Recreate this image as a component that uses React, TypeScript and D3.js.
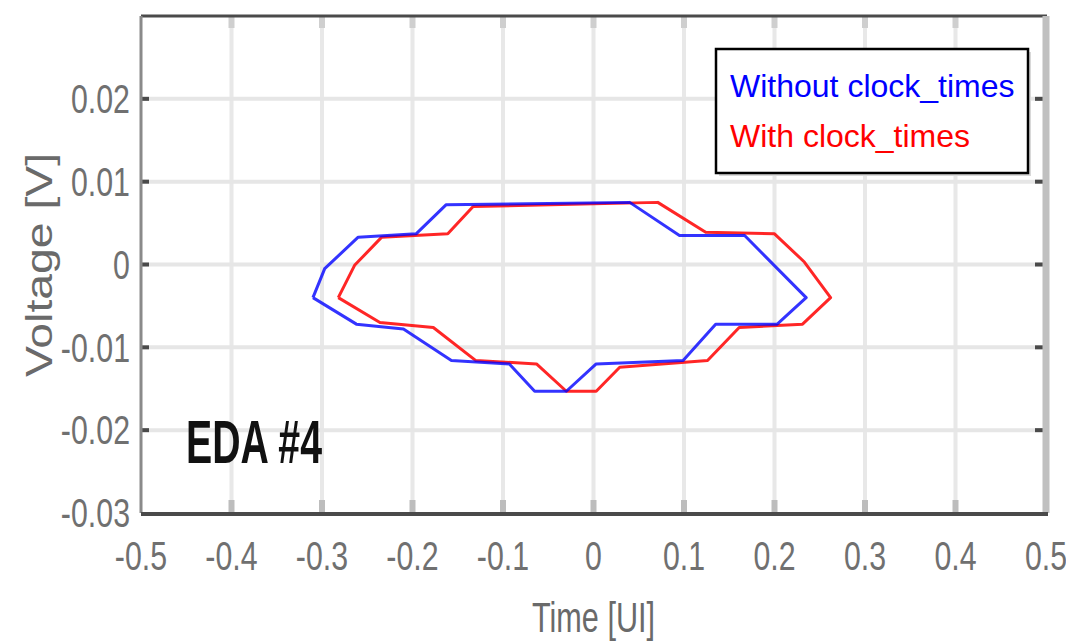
import React from 'react';
import * as d3 from 'd3';

// eye contour, "Without clock_times" (blue)
const blueTime = [-0.31, -0.297, -0.26, -0.196, -0.163, 0.04, 0.095, 0.167, 0.235, 0.203, 0.135, 0.099, 0.003, -0.03, -0.065, -0.093, -0.157, -0.21, -0.262, -0.31];
const blueVoltage = [-0.004, -0.0005, 0.0033, 0.0037, 0.0072, 0.0075, 0.0035, 0.0035, -0.004, -0.0072, -0.0072, -0.0116, -0.012, -0.0153, -0.0153, -0.012, -0.0116, -0.0078, -0.0072, -0.004];

// eye contour, "With clock_times" (red)
const redTime = [-0.282, -0.264, -0.234, -0.161, -0.133, 0.071, 0.124, 0.2, 0.233, 0.262, 0.231, 0.161, 0.126, 0.029, 0.003, -0.03, -0.063, -0.13, -0.177, -0.236, -0.282];
const redVoltage = [-0.004, -0.0001, 0.0033, 0.0037, 0.007, 0.0075, 0.0039, 0.0037, 0.0003, -0.004, -0.0072, -0.0076, -0.0116, -0.0124, -0.0153, -0.0153, -0.012, -0.0116, -0.0076, -0.007, -0.004];

const xTicks = [-0.5, -0.4, -0.3, -0.2, -0.1, 0, 0.1, 0.2, 0.3, 0.4, 0.5];
const xTickLabels = ['-0.5', '-0.4', '-0.3', '-0.2', '-0.1', '0', '0.1', '0.2', '0.3', '0.4', '0.5'];
const yTicks = [0.02, 0.01, 0, -0.01, -0.02, -0.03];
const yTickLabels = ['0.02', '0.01', '0', '-0.01', '-0.02', '-0.03'];

const legendLabels = ['Without clock_times', 'With clock_times'];

export default function App() {
  const left = 141, right = 1046, top = 16, bottom = 513;
  const x = d3.scaleLinear().domain([-0.5, 0.5]).range([left, right]);
  const y = d3.scaleLinear().domain([-0.03, 0.03]).range([bottom, top]);

  const line = d3.line<number>()
    .x(d => d[0])
    .y(d => d[1]);
  const bluePath = line(blueTime.map((t, i) => [x(t), y(blueVoltage[i])]) as any);
  const redPath = line(redTime.map((t, i) => [x(t), y(redVoltage[i])]) as any);

  const tickFont = '"Liberation Sans", Arial, sans-serif';

  return (
    <svg width={1066} height={643} style={{ position: 'absolute', left: 0, top: 0, background: '#fff' }}>
      {/* grid */}
      {xTicks.slice(1, -1).map(t => (
        <line key={'gx' + t} x1={x(t)} x2={x(t)} y1={top} y2={bottom} stroke="#e8e8e8" strokeWidth={4} />
      ))}
      {yTicks.slice(0, -1).map(t => (
        <line key={'gy' + t} x1={left} x2={right} y1={y(t)} y2={y(t)} stroke="#e6e6e6" strokeWidth={4} />
      ))}

      {/* tick marks */}
      {xTicks.slice(1, -1).map(t => (
        <g key={'tx' + t}>
          <rect x={x(t) - 3} y={top + 1} width={6} height={11} fill="#cfcfcf" />
          <rect x={x(t) - 3} y={bottom - 13} width={6} height={12} fill="#bdbdbd" />
        </g>
      ))}
      {yTicks.slice(0, -1).map(t => (
        <g key={'ty' + t}>
          <rect x={left + 1} y={y(t) - 2} width={7} height={4} fill="#4a4a4a" />
          <rect x={right - 11} y={y(t) - 2} width={8} height={4} fill="#4a4a4a" />
        </g>
      ))}

      {/* curves */}
      <path d={redPath || ''} fill="none" stroke="#ff0000" strokeOpacity={0.85} strokeWidth={3} strokeLinejoin="round" />
      <path d={bluePath || ''} fill="none" stroke="#0000ff" strokeOpacity={0.8} strokeWidth={3} strokeLinejoin="round" />

      {/* frame */}
      <line x1={left} x2={right + 1} y1={top} y2={top} stroke="#4a4a4a" strokeWidth={3} />
      <line x1={right} x2={right} y1={top} y2={bottom} stroke="#c0c0c0" strokeWidth={7} />
      <line x1={left} x2={left} y1={top} y2={bottom} stroke="#8a8a8a" strokeWidth={3} />
      <line x1={left} x2={right + 2} y1={bottom + 1} y2={bottom + 1} stroke="#4a4a4a" strokeWidth={4} />

      {/* tick labels */}
      {yTicks.map((t, i) => (
        <g key={'ly' + t} transform={`translate(130,${y(t)}) scale(0.74,1)`}>
          <text x={0} y={0} textAnchor="end" dominantBaseline="central" fontFamily={tickFont} fontSize={41} fill="#707070">
            {yTickLabels[i]}
          </text>
        </g>
      ))}
      {xTicks.map((t, i) => (
        <g key={'lx' + t} transform={`translate(${x(t)},556) scale(0.74,1)`}>
          <text x={0} y={0} textAnchor="middle" dominantBaseline="central" fontFamily={tickFont} fontSize={41} fill="#707070">
            {xTickLabels[i]}
          </text>
        </g>
      ))}

      {/* axis titles */}
      <text x={532} y={632} fontFamily={tickFont} fontSize={43} fill="#6a6a6a" textLength={123} lengthAdjust="spacingAndGlyphs">
        Time [UI]
      </text>
      <text transform="translate(52,377) rotate(-90)" x={0} y={0} fontFamily={tickFont} fontSize={37} fill="#6a6a6a" textLength={224} lengthAdjust="spacingAndGlyphs">
        Voltage [V]
      </text>

      {/* annotation */}
      <text x={186} y={463} fontFamily={tickFont} fontWeight="bold" fontSize={62} fill="#111" textLength={136} lengthAdjust="spacingAndGlyphs">
        EDA #4
      </text>

      {/* legend */}
      <rect x={719} y={52} width={312} height={124} fill="#d8d8d8" />
      <rect x={716} y={49} width={312} height={124} fill="#fff" stroke="#000" strokeWidth={2.5} />
      <text x={730} y={97} fontFamily={tickFont} fontSize={32} fill="#0000ff">{legendLabels[0]}</text>
      <text x={730} y={147} fontFamily={tickFont} fontSize={32} fill="#ff0000">{legendLabels[1]}</text>
    </svg>
  );
}
